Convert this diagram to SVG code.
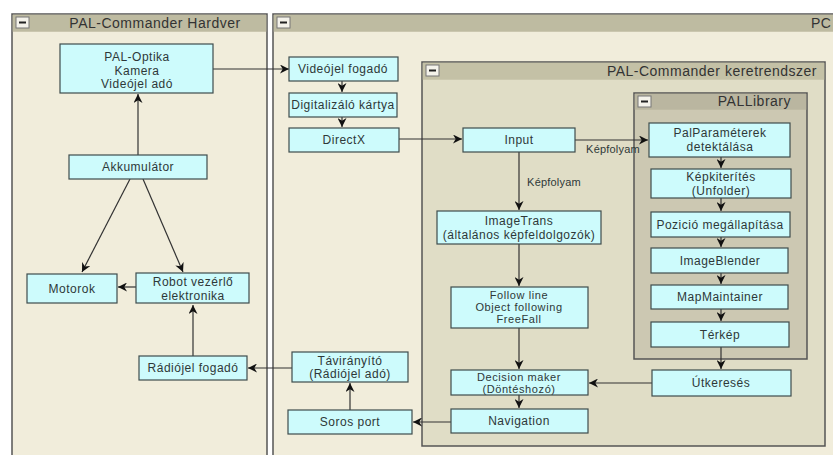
<svg xmlns="http://www.w3.org/2000/svg" width="833" height="455" viewBox="0 0 833 455">
<defs>
<style>
.c0{fill:#f1eddb;stroke:#555;stroke-width:1.5}
.h0{fill:#bebba1}
.c1{fill:#e0ddc6;stroke:#555;stroke-width:1.5}
.h1{fill:#c4c1a6}
.c2{fill:#ccc8b2;stroke:#555;stroke-width:1.5}
.h2{fill:#bab6a0}
.mb{fill:#f4f2ea;stroke:#777;stroke-width:1}
.mm{stroke:#222;stroke-width:2}
.n rect{fill:#cdfbfc;stroke:#3e4c4c;stroke-width:1.2}
.n text, .lbl{font-family:"Liberation Sans",Arial,sans-serif;font-size:12px;letter-spacing:0.5px;fill:#2e3838;text-anchor:middle}
.n .s{font-size:11px;letter-spacing:0.6px}
.lbl{font-size:11px;letter-spacing:0.2px}
.ttl{font-family:"Liberation Sans",Arial,sans-serif;font-size:14px;letter-spacing:0.5px;fill:#333}
.e line,.e path{stroke:#333;stroke-width:1.2;fill:none;marker-end:url(#ah)}
</style>
<marker id="ah" viewBox="0 0 10 10" refX="10" refY="5" markerWidth="9" markerHeight="9" markerUnits="userSpaceOnUse" orient="auto">
<path d="M0,0 L10,5 L0,10 L3,5 z" fill="#111"/>
</marker>
</defs>
<rect x="0" y="0" width="833" height="455" fill="#fff"/>

<g id="hardver">
<rect class="c0" x="12" y="14" width="255" height="445"/>
<rect class="h0" x="12.75" y="14.75" width="253.5" height="17"/>
<rect class="mb" x="16" y="17" width="13" height="11"/>
<line class="mm" x1="19" y1="22.5" x2="26" y2="22.5"/>
<text class="ttl" x="155" y="28" text-anchor="middle">PAL-Commander Hardver</text>
</g>

<g id="pc">
<rect class="c0" x="273" y="14" width="570" height="445"/>
<rect class="h0" x="273.75" y="14.75" width="570" height="17"/>
<rect class="mb" x="277" y="17" width="13" height="11"/>
<line class="mm" x1="280" y1="22.5" x2="287" y2="22.5"/>
<text class="ttl" x="811" y="28">PC</text>
</g>

<g id="keretrendszer">
<rect class="c1" x="422" y="62" width="403" height="384"/>
<rect class="h1" x="422.75" y="62.75" width="401.5" height="17"/>
<rect class="mb" x="426" y="65" width="13" height="11"/>
<line class="mm" x1="429" y1="70.5" x2="436" y2="70.5"/>
<text class="ttl" x="817" y="76" text-anchor="end">PAL-Commander keretrendszer</text>
</g>

<g id="pallibrary">
<rect class="c2" x="634" y="93" width="173" height="266"/>
<rect class="h2" x="634.75" y="93.75" width="171.5" height="16"/>
<rect class="mb" x="638" y="96" width="13" height="11"/>
<line class="mm" x1="641" y1="101.5" x2="648" y2="101.5"/>
<text class="ttl" x="791" y="106" text-anchor="end">PALLibrary</text>
</g>

<g id="connectors" class="e">
<line x1="138" y1="155" x2="138" y2="94"/>
<line x1="130" y1="179" x2="82" y2="272"/>
<line x1="143" y1="179" x2="183" y2="272"/>
<line x1="136" y1="287" x2="118" y2="287"/>
<line x1="193" y1="356" x2="193" y2="305"/>
<line x1="213" y1="69" x2="289" y2="69"/>
<line x1="342" y1="81" x2="342" y2="92"/>
<line x1="342" y1="117" x2="342" y2="127"/>
<line x1="399" y1="139" x2="462" y2="139"/>
<line x1="575" y1="140" x2="648" y2="140"/>
<line x1="519" y1="152" x2="519" y2="210"/>
<line x1="519" y1="244" x2="519" y2="286"/>
<line x1="519" y1="328" x2="519" y2="369"/>
<line x1="519" y1="395" x2="519" y2="408"/>
<line x1="451" y1="422" x2="413" y2="422"/>
<line x1="350" y1="410" x2="350" y2="383"/>
<line x1="292" y1="368" x2="248" y2="368"/>
<line x1="721" y1="157" x2="721" y2="168"/>
<line x1="721" y1="198" x2="721" y2="211"/>
<line x1="721" y1="237" x2="721" y2="247"/>
<line x1="721" y1="273" x2="721" y2="284"/>
<line x1="721" y1="309" x2="721" y2="321"/>
<line x1="721" y1="347" x2="721" y2="369"/>
<line x1="652" y1="383" x2="589" y2="383"/>
<text class="lbl" x="613" y="153">Képfolyam</text>
<text class="lbl" x="554" y="186">Képfolyam</text>
</g>

<g id="n-optika" class="n"><rect x="60" y="44" width="153" height="49"/><text x="137" y="61">PAL-Optika</text><text x="137" y="75">Kamera</text><text x="137" y="88">Videójel adó</text></g>
<g id="n-akku" class="n"><rect x="69" y="155" width="138" height="24"/><text x="138" y="171">Akkumulátor</text></g>
<g id="n-motorok" class="n"><rect x="27" y="274" width="90" height="29"/><text x="72" y="293">Motorok</text></g>
<g id="n-robot" class="n"><rect x="136" y="273" width="113" height="30"/><text x="193" y="286">Robot vezérlő</text><text x="193" y="300">elektronika</text></g>
<g id="n-radiofog" class="n"><rect x="139" y="356" width="108" height="24"/><text x="193" y="372">Rádiójel fogadó</text></g>

<g id="n-videofog" class="n"><rect x="289" y="57" width="109" height="24"/><text x="343" y="73">Videójel fogadó</text></g>
<g id="n-digit" class="n"><rect x="289" y="93" width="108" height="24"/><text x="343" y="109" letter-spacing="0.2">Digitalizáló kártya</text></g>
<g id="n-directx" class="n"><rect x="289" y="128" width="110" height="24"/><text x="344" y="144">DirectX</text></g>
<g id="n-tavir" class="n"><rect x="292" y="352" width="116" height="30"/><text x="350" y="365">Távirányító</text><text x="350" y="378">(Rádiójel adó)</text></g>
<g id="n-soros" class="n"><rect x="288" y="410" width="124" height="24"/><text x="350" y="426">Soros port</text></g>

<g id="n-input" class="n"><rect x="463" y="128" width="112" height="24"/><text x="519" y="144">Input</text></g>
<g id="n-imagetrans" class="n"><rect x="437" y="211" width="164" height="33"/><text x="519" y="225">ImageTrans</text><text x="519" y="239">(általános képfeldolgozók)</text></g>
<g id="n-follow" class="n"><rect x="451" y="287" width="137" height="41"/><text class="s" x="519" y="299">Follow line</text><text class="s" x="519" y="311">Object following</text><text class="s" x="519" y="323">FreeFall</text></g>
<g id="n-decision" class="n"><rect x="451" y="370" width="137" height="25"/><text class="s" x="519" y="381">Decision maker</text><text class="s" x="519" y="393">(Döntéshozó)</text></g>
<g id="n-nav" class="n"><rect x="451" y="409" width="137" height="24"/><text x="519" y="425">Navigation</text></g>

<g id="n-palparam" class="n"><rect x="649" y="123" width="141" height="34"/><text x="720" y="137">PalParaméterek</text><text x="720" y="151">detektálása</text></g>
<g id="n-kepki" class="n"><rect x="651" y="169" width="140" height="29"/><text x="721" y="181">Képkiterítés</text><text x="721" y="195">(Unfolder)</text></g>
<g id="n-pozicio" class="n"><rect x="651" y="212" width="139" height="25"/><text x="720" y="229">Pozició megállapítása</text></g>
<g id="n-blender" class="n"><rect x="651" y="248" width="137" height="25"/><text x="720" y="265">ImageBlender</text></g>
<g id="n-mapm" class="n"><rect x="651" y="285" width="137" height="24"/><text x="720" y="301">MapMaintainer</text></g>
<g id="n-terkep" class="n"><rect x="651" y="322" width="138" height="25"/><text x="720" y="339">Térkép</text></g>
<g id="n-utker" class="n"><rect x="652" y="370" width="139" height="26"/><text x="721" y="387">Útkeresés</text></g>
</svg>
